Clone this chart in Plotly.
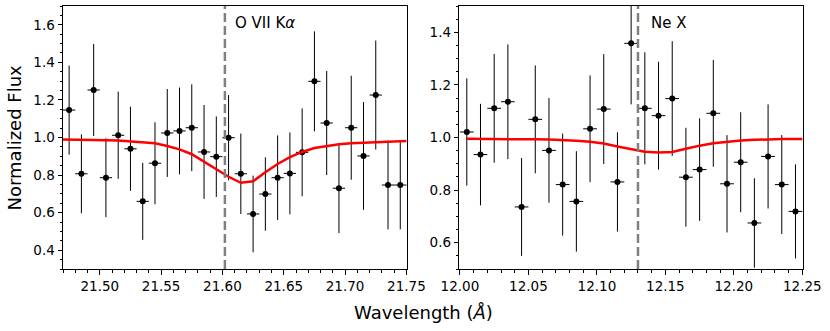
import plotly.graph_objects as go

# ---------------- data ----------------
# O VII K-alpha panel
left_wave = [21.475, 21.485, 21.495, 21.505, 21.515, 21.525, 21.535, 21.545, 21.555, 21.565,
             21.575, 21.585, 21.595, 21.605, 21.615, 21.625, 21.635, 21.645, 21.655, 21.665,
             21.675, 21.685, 21.695, 21.705, 21.715, 21.725, 21.735, 21.745]
left_flux = [1.146, 0.807, 1.253, 0.786, 1.012, 0.940, 0.660, 0.863, 1.024, 1.035,
             1.052, 0.923, 0.898, 0.999, 0.807, 0.593, 0.699, 0.786, 0.809, 0.921,
             1.299, 1.077, 0.730, 1.052, 0.902, 1.226, 0.747, 0.747]
left_err = [0.237, 0.210, 0.245, 0.210, 0.232, 0.224, 0.205, 0.218, 0.234, 0.231,
            0.231, 0.250, 0.214, 0.227, 0.214, 0.204, 0.195, 0.225, 0.218, 0.234,
            0.266, 0.277, 0.239, 0.277, 0.287, 0.290, 0.236, 0.236]
left_model_wave = [21.47, 21.475, 21.485, 21.495, 21.505, 21.515, 21.525, 21.535, 21.545, 21.555,
                   21.565, 21.575, 21.585, 21.595, 21.605, 21.615, 21.625, 21.635, 21.645,
                   21.655, 21.665, 21.675, 21.685, 21.695, 21.705, 21.715, 21.725, 21.735,
                   21.745, 21.75]
left_model = [0.990, 0.990, 0.989, 0.988, 0.986, 0.984, 0.980, 0.975, 0.969, 0.955,
              0.937, 0.911, 0.871, 0.831, 0.791, 0.759, 0.767, 0.815, 0.859,
              0.895, 0.923, 0.944, 0.956, 0.964, 0.969, 0.972, 0.976, 0.980,
              0.981, 0.982]
left_line = 21.602
left_label = "O VII K<i>α</i>"

# Ne X panel
right_wave = [12.005, 12.015, 12.025, 12.035, 12.045, 12.055, 12.065, 12.075, 12.085, 12.095,
              12.105, 12.115, 12.125, 12.135, 12.145, 12.155, 12.165, 12.175, 12.185, 12.195,
              12.205, 12.215, 12.225, 12.235, 12.245]
right_flux = [1.021, 0.935, 1.111, 1.136, 0.736, 1.069, 0.951, 0.821, 0.757, 1.033,
              1.108, 0.831, 1.358, 1.111, 1.083, 1.148, 0.849, 0.878, 1.092, 0.824,
              0.906, 0.675, 0.928, 0.821, 0.719]
right_err = [0.204, 0.193, 0.207, 0.218, 0.186, 0.205, 0.199, 0.194, 0.191, 0.203,
             0.209, 0.189, 0.232, 0.213, 0.205, 0.218, 0.188, 0.195, 0.203, 0.185,
             0.190, 0.170, 0.198, 0.188, 0.179]
right_model_wave = [12.005, 12.015, 12.025, 12.035, 12.045, 12.055, 12.065, 12.075, 12.085, 12.095,
                    12.105, 12.115, 12.125, 12.135, 12.145, 12.155, 12.165, 12.175, 12.185, 12.195,
                    12.205, 12.215, 12.225, 12.235, 12.245, 12.25]
right_model = [0.995, 0.995, 0.995, 0.995, 0.994, 0.993, 0.992, 0.991, 0.988, 0.984,
               0.977, 0.966, 0.955, 0.946, 0.943, 0.945, 0.957, 0.969, 0.978, 0.984,
               0.989, 0.991, 0.993, 0.994, 0.994, 0.994]
right_line = 12.13
right_label = "Ne X"

bin_half = 0.005

FONT = "DejaVu Sans"

fig = go.Figure()

def add_panel(wave, flux, err, mwave, model, xa, ya):
    fig.add_trace(go.Scatter(
        x=wave, y=flux, mode="markers", xaxis=xa, yaxis=ya,
        marker=dict(color="black", size=6),
        error_y=dict(type="data", array=err, visible=True, color="black", thickness=1, width=0),
        error_x=dict(type="constant", value=bin_half, visible=True, color="black", thickness=1, width=0),
        showlegend=False, hoverinfo="skip"))
    fig.add_trace(go.Scatter(
        x=mwave, y=model, mode="lines", xaxis=xa, yaxis=ya,
        line=dict(color="#ff0000", width=2.5),
        showlegend=False, hoverinfo="skip"))

add_panel(left_wave, left_flux, left_err, left_model_wave, left_model, "x", "y")
add_panel(right_wave, right_flux, right_err, right_model_wave, right_model, "x2", "y2")

for xv, xr, yr in [(left_line, "x", "y domain"), (right_line, "x2", "y2 domain")]:
    fig.add_shape(type="line", x0=xv, x1=xv, y0=0, y1=1, xref=xr, yref=yr,
                  line=dict(color="#808080", width=2.5, dash="9px,4px"))

fig.add_annotation(x=left_line, y=0.935, xref="x", yref="paper", text=left_label,
                   showarrow=False, xanchor="left", yanchor="middle", xshift=8,
                   font=dict(family=FONT, size=15, color="black"))
fig.add_annotation(x=right_line, y=0.935, xref="x2", yref="paper", text=right_label,
                   showarrow=False, xanchor="left", yanchor="middle", xshift=11,
                   font=dict(family=FONT, size=15, color="black"))

fig.add_annotation(x=-0.0649, y=0.5, xref="paper", yref="paper", text="Normalized Flux",
                   showarrow=False, textangle=-90, xanchor="center", yanchor="middle",
                   font=dict(family=FONT, size=18, color="black"))
fig.add_annotation(x=0.4878, y=-0.167, xref="paper", yref="paper", text="Wavelength (<i>Å</i>)",
                   showarrow=False, xanchor="center", yanchor="middle",
                   font=dict(family=FONT, size=18, color="black"))

tickfont = dict(family=FONT, size=13.5, color="black")
common_axis = dict(showgrid=False, zeroline=False, showline=True, mirror=True,
                   linecolor="black", linewidth=1, ticks="outside", ticklen=4.5,
                   tickwidth=1, tickcolor="black", tickfont=tickfont)

fig.update_layout(
    width=830, height=331,
    margin=dict(l=63, r=27, t=6, b=62),
    paper_bgcolor="white", plot_bgcolor="white",
    xaxis=dict(domain=[0, 0.4649], range=[21.47, 21.7505], dtick=0.05, tick0=21.5,
               tickformat=".2f", anchor="y",
               minor=dict(dtick=0.01, ticks="outside", ticklen=2.5, tickwidth=1, tickcolor="black"),
               **common_axis),
    yaxis=dict(domain=[0, 1], range=[0.3, 1.7], dtick=0.2, tick0=0, tickformat=".1f", anchor="x",
               minor=dict(dtick=0.05, ticks="outside", ticklen=2.5, tickwidth=1, tickcolor="black"),
               **common_axis),
    xaxis2=dict(domain=[0.5355, 1.0], range=[11.9995, 12.2505], dtick=0.05, tick0=12.0,
                tickformat=".2f", anchor="y2",
                minor=dict(dtick=0.01, ticks="outside", ticklen=2.5, tickwidth=1, tickcolor="black"),
                **common_axis),
    yaxis2=dict(domain=[0, 1], range=[0.5, 1.5], dtick=0.2, tick0=0, tickformat=".1f", anchor="x2",
                minor=dict(dtick=0.05, ticks="outside", ticklen=2.5, tickwidth=1, tickcolor="black"),
                **common_axis),
)

fig.write_html("out.html", config={"displayModeBar": False},
               post_script="document.body.style.margin='0px';")
